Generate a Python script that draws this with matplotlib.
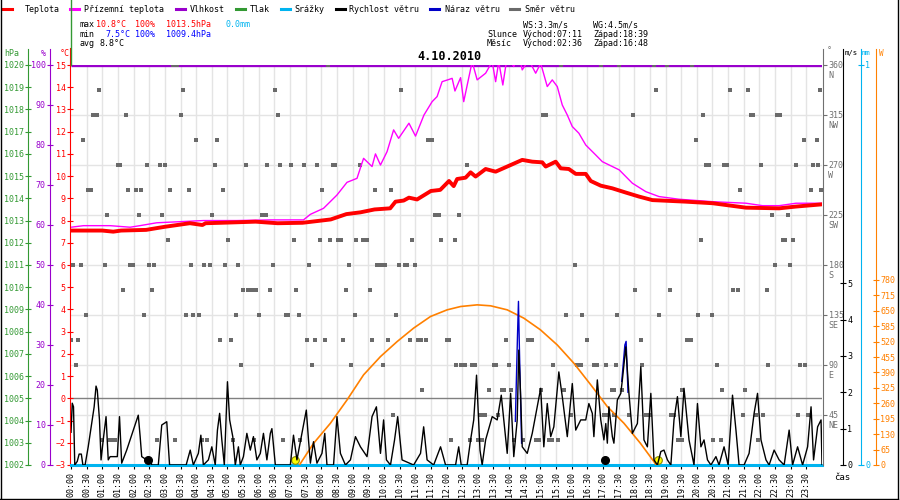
import matplotlib
matplotlib.use('Agg')
import matplotlib.pyplot as plt
from matplotlib.lines import Line2D

plt.rcParams['font.family'] = ['DejaVu Sans Mono']
plt.rcParams['font.size'] = 6

# ---- values ----
temp_hour = [0, 0.5, 1.0, 1.35, 1.6, 2.4, 3.0, 3.8, 4.2, 4.3, 4.8, 5.9, 6.6, 7.4, 8.3, 8.8,
             9.25, 9.7, 10.2, 10.37, 10.63, 10.8, 11.06, 11.5, 11.8, 12.08, 12.23, 12.34,
             12.61, 12.77, 12.93, 13.25, 13.57, 14.1, 14.42, 14.74, 15.06, 15.17, 15.49,
             15.65, 15.91, 16.13, 16.45, 16.61, 16.93, 17.3, 17.73, 18.15, 18.58, 18.9,
             19.65, 20.5, 20.93, 21.57, 22.63, 23.17, 24.0]
temp_c = [7.55, 7.55, 7.55, 7.5, 7.55, 7.58, 7.72, 7.88, 7.8, 7.88, 7.9, 7.95, 7.88, 7.9,
          8.05, 8.29, 8.37, 8.5, 8.55, 8.85, 8.9, 9.03, 8.95, 9.33, 9.38, 9.78, 9.55, 9.87,
          9.93, 10.17, 9.98, 10.32, 10.2, 10.53, 10.73, 10.65, 10.62, 10.43, 10.65, 10.35,
          10.32, 10.1, 10.1, 9.78, 9.57, 9.45, 9.26, 9.08, 8.92, 8.9, 8.85, 8.78, 8.7, 8.58,
          8.55, 8.63, 8.73]

ground_hour = [0, 0.4, 1.25, 1.89, 2.2, 2.74, 3.49, 4.23, 5.3, 6.37, 7.43, 7.65, 8.07, 8.5,
               8.82, 9.14, 9.35, 9.62, 9.73, 9.89, 10.1, 10.31, 10.47, 10.8, 11.01, 11.28,
               11.54, 11.7, 11.86, 12.08, 12.18, 12.27, 12.45, 12.55, 12.82, 12.98, 13.25,
               13.46, 13.57, 13.67, 13.8, 13.94, 14.15, 14.31, 14.42, 14.63, 14.85, 15.01,
               15.22, 15.38, 15.54, 15.7, 15.86, 16.02, 16.23, 16.45, 16.77, 16.98, 17.52,
               17.94, 18.37, 18.79, 19.43, 20.5, 21.57, 22.1, 22.63, 23.17, 24.0]
ground_c = [7.7, 7.77, 7.77, 7.7, 7.77, 7.9, 7.95, 8.0, 8.0, 8.03, 8.03, 8.28, 8.55, 9.15,
            9.72, 9.9, 10.8, 10.43, 11.0, 10.5, 11.1, 12.08, 11.7, 12.38, 11.8, 12.75, 13.35,
            13.58, 14.25, 14.35, 14.4, 13.83, 14.43, 13.35, 15.15, 14.33, 14.63, 15.15, 14.25,
            15.15, 14.1, 15.38, 14.93, 15.5, 14.78, 15.23, 14.63, 15.08, 14.03, 14.33, 14.03,
            13.2, 12.75, 12.23, 11.93, 11.4, 10.95, 10.65, 10.28, 9.68, 9.3, 9.08, 8.96,
            8.85, 8.78, 8.67, 8.67, 8.78, 8.78]

humid_hour = [0, 24]
humid_pct = [100, 100]

rain_hour = [0, 24]
rain_mm = [0.0, 0.0]

wind_hour = [0.0, 0.04, 0.08, 0.12, 0.2, 0.26, 0.33, 0.38, 0.45, 0.55, 0.66, 0.74, 0.8, 0.84,
             0.91, 0.96, 1.03, 1.12, 1.19, 1.25, 1.48, 1.55, 1.62, 1.78, 1.99, 2.15, 2.21,
             2.26, 2.42, 2.53, 2.58, 2.79, 2.9, 3.06, 3.15, 3.68, 3.81, 3.91, 4.07, 4.15,
             4.23, 4.39, 4.5, 4.61, 4.68, 4.75, 4.82, 4.9, 4.96, 5.0, 5.07, 5.17, 5.25, 5.35,
             5.41, 5.51, 5.62, 5.73, 5.83, 5.94, 6.05, 6.15, 6.26, 6.37, 6.42, 6.53, 7.01,
             7.11, 7.22, 7.38, 7.52, 7.59, 7.65, 7.75, 7.86, 8.02, 8.11, 8.18, 8.39, 8.5,
             8.61, 8.77, 8.93, 9.09, 9.25, 9.46, 9.62, 9.76, 9.89, 9.99, 10.08, 10.21, 10.34,
             10.44, 10.58, 10.95, 11.17, 11.27, 11.38, 11.59, 11.81, 11.97, 12.29, 12.39,
             12.47, 12.66, 12.77, 12.87, 12.96, 13.07, 13.14, 13.25, 13.46, 13.62, 13.75,
             13.83, 13.94, 14.05, 14.15, 14.26, 14.31, 14.37, 14.42, 14.58, 14.74, 14.9,
             15.01, 15.11, 15.22, 15.33, 15.43, 15.59, 15.7, 15.86, 16.02, 16.13, 16.29,
             16.45, 16.55, 16.66, 16.71, 16.82, 16.93, 17.03, 17.09, 17.14, 17.19, 17.3,
             17.35, 17.46, 17.57, 17.62, 17.73, 17.83, 17.94, 18.1, 18.21, 18.31, 18.42,
             18.53, 18.63, 18.74, 18.85, 18.95, 19.06, 19.17, 19.27, 19.38, 19.49, 19.59,
             19.75, 19.91, 20.02, 20.13, 20.23, 20.34, 20.45, 20.61, 20.71, 20.87, 21.0,
             21.14, 21.25, 21.35, 21.51, 21.67, 21.83, 21.94, 22.05, 22.21, 22.31, 22.47,
             22.63, 22.79, 22.95, 23.06, 23.22, 23.38, 23.54, 23.65, 23.73, 23.86, 23.97, 24.0]
wind_ms = [0.9, 1.7, 1.6, 0.0, 0.1, 0.3, 0.3, 0.0, 0.0, 0.5, 1.14, 1.6, 2.17, 2.06,
           1.24, 0.14, 0.69, 1.33, 0.14, 0.23, 0.23, 1.33, 0.05, 0.41, 0.96, 1.37, 0.78,
           0.23, 0.14, 0.18, 0.0, 0.0, 1.1, 1.19, 0.0, 0.0, 0.41, 0.0, 0.32, 0.82,
           0.0, 0.14, 0.5, 0.0, 0.96, 1.42, 0.69, 0.0, 1.42, 2.29, 1.24, 0.78, 0.0, 0.5,
           0.0, 0.23, 0.87, 0.41, 0.78, 0.14, 0.32, 0.87, 0.14, 0.87, 1.0, 0.0, 0.0,
           0.82, 0.14, 0.87, 1.51, 0.69, 0.05, 0.64, 0.05, 0.32, 0.87, 0.0, 0.0, 1.33,
           0.32, 0.0, 0.14, 0.78, 0.5, 0.23, 1.33, 1.6, 0.32, 1.24, 0.14, 0.0, 0.69,
           1.33, 0.14, 0.0, 0.32, 1.05, 0.14, 0.0, 0.5, 0.0, 0.0, 0.5,
           0.0, 0.0, 0.69, 1.24, 2.47, 0.41, 0.0, 0.69, 1.33, 1.24, 1.92,
           1.24, 0.32, 1.97, 0.23, 1.24, 3.16, 1.88, 0.5, 0.32, 0.87, 1.6,
           2.11, 0.5, 1.69, 0.78, 1.05, 2.56, 1.88, 0.78, 2.24, 0.96, 1.24,
           1.24, 1.69, 1.42, 0.78, 2.34, 1.24, 0.69, 1.14, 0.6, 1.6, 0.78,
           0.6, 1.79, 1.97, 2.34, 3.25, 1.97, 0.87, 1.14, 2.7, 0.69, 0.5,
           1.97, 0.14, 0.0, 0.37, 0.41, 0.14, 0.0, 1.24, 1.88, 0.78, 2.11,
           0.69, 0.0, 1.69, 0.5, 0.69, 0.14, 0.0, 0.23, 0.0, 0.5, 0.0,
           1.92, 0.96, 0.0, 0.0, 0.32, 1.42, 1.97, 0.69, 0.14, 0.0, 0.41,
           0.14, 0.0, 0.96, 0.0, 0.5, 0.0, 0.5, 1.6, 0.14, 1.05, 1.24, 0.0]

gust_hour = [14.2, 14.27, 14.3, 14.33, 14.4, float('nan'), 17.6, 17.7, 17.74, 17.8]
gust_ms = [1.2, 3.6, 4.5, 3.2, 0.6, float('nan'), 2.3, 3.3, 3.4, 2.0]

sun_hour = [7.3, 7.75, 8.29, 8.82, 9.35, 9.89, 10.42, 10.95, 11.49, 12.02, 12.45, 12.98,
            13.41, 13.94, 14.47, 15.0, 15.54, 16.07, 16.61, 17.14, 17.67, 18.2, 18.63, 18.7]
sun_w = [0, 91, 176, 274, 380, 457, 520, 577, 626, 654, 668, 675,
         671, 654, 619, 570, 506, 429, 338, 246, 176, 91, 14, 0]

sun_events = [7.15, 18.75]
moon_events = [2.45, 17.08]

# wind direction samples: degree -> hours
wind_dir = {
    360.0: [3.27, 3.40, 8.21, 15.67, 16.93, 17.51, 18.63, 19.04, 19.86],
    337.5: [0.9, 3.57, 6.53, 10.56, 18.71, 21.06, 21.63, 23.95],
    315.0: [0.71, 0.82, 1.76, 3.52, 6.61, 15.09, 15.19, 17.95, 20.21, 21.73, 21.81, 22.56, 22.67],
    292.5: [0.39, 4.0, 4.66, 11.40, 11.54, 19.97, 23.41, 23.83],
    270.0: [1.49, 1.57, 2.42, 2.83, 3.01, 4.61, 5.59, 6.26, 6.69, 7.03, 7.46, 7.86, 8.36, 8.45,
            9.22, 12.67, 20.29, 20.4, 20.87, 20.98, 22.06, 23.16, 23.72, 23.88],
    247.5: [0.55, 0.64, 1.81, 2.08, 2.23, 3.17, 3.78, 4.85, 8.03, 9.73, 10.24, 21.39, 23.65, 23.98],
    225.0: [1.14, 2.18, 2.9, 4.5, 6.10, 6.23, 11.63, 11.75, 12.41, 22.4, 22.91],
    202.5: [3.09, 5.01, 7.14, 7.95, 8.29, 8.53, 8.64, 9.12, 9.32, 9.46, 10.9, 11.81, 12.26,
            20.13, 22.74, 22.83, 23.07],
    180.0: [0.05, 0.32, 1.09, 1.89, 1.97, 2.5, 2.66, 3.84, 4.26, 4.43, 4.93, 5.33, 6.44, 7.6,
            8.9, 9.78, 9.91, 10.05, 10.48, 10.67, 10.74, 10.98, 16.1, 22.5, 22.98],
    157.5: [1.65, 2.58, 5.51, 5.67, 5.78, 5.92, 6.37, 7.2, 8.79, 9.57, 18.03, 19.14, 21.16,
            21.3, 22.24],
    135.0: [0.47, 2.34, 3.68, 3.91, 4.09, 5.27, 6.02, 6.87, 6.95, 7.3, 9.06, 10.4, 15.83,
            16.34, 17.44, 18.79, 20.05, 20.48],
    112.5: [0.0, 0.21, 4.77, 5.12, 7.54, 7.81, 8.13, 8.7, 9.63, 10.14, 10.82, 11.09, 11.17,
            11.33, 12.0, 12.08, 13.91, 14.6, 14.74, 16.5, 18.21, 19.7, 19.81],
    90.0: [0.16, 5.44, 7.71, 8.96, 9.96, 12.31, 12.47, 12.58, 12.82, 12.91, 13.51, 13.59,
           13.99, 15.41, 16.18, 16.29, 16.71, 16.82, 17.11, 17.43, 18.26, 20.63, 22.29,
           23.31, 23.47],
    67.5: [11.22, 13.35, 13.78, 13.83, 14.07, 15.01, 15.75, 17.28, 17.35, 17.62, 19.54,
           20.8, 21.55],
    45.0: [10.29, 13.09, 13.23, 13.65, 15.97, 17.03, 17.14, 17.35, 17.83, 18.37, 18.51,
           19.19, 19.27, 21.46, 21.89, 22.13, 23.22, 23.56],
    22.5: [0.98, 1.25, 1.32, 1.41, 2.76, 3.33, 4.2, 4.34, 5.17, 5.86, 6.78, 7.33, 12.15,
           12.74, 13.01, 13.14, 14.15, 14.45, 14.85, 14.95, 15.27, 15.38, 15.56, 19.41,
           19.51, 20.53, 20.77, 21.97],
}

hour_ticks = [i * 0.5 for i in range(48)]
hour_labels = ['%02d:%02d' % (int(h), 30 if h % 1 else 0) for h in hour_ticks]
dir_ticks = [45, 90, 135, 180, 225, 270, 315, 360]
dir_names = ['NE', 'E', 'SE', 'S', 'SW', 'W', 'NW', 'N']

RED = '#ff0000'
MAGENTA = '#ff00ff'
PURPLE = '#9900cc'
GREEN = '#339933'
CYAN = '#00b4f0'
NAVY = '#0000c8'
GRAY = '#6a6a6a'
ORANGE = '#ff8000'

W, H = 900, 500
def fx(px):
    return px / W
def fy(py):
    return 1 - py / H

fig = plt.figure(figsize=(9, 5), dpi=100)
fig.patch.set_facecolor('white')

L, R, T, B = 71, 822, 65, 465
ax = fig.add_axes([fx(L), fy(B), (R - L) / W, (B - T) / H])
ax.set_xlim(0, 24)
ax.set_ylim(-3, 15)
ax.patch.set_visible(False)

# grid
for h in hour_ticks[1:]:
    ax.axvline(h, color='#e4e4e4', lw=1, zorder=0)
for d in dir_ticks[:-1]:
    ax.axhline(-3 + d / 20, color='#e4e4e4', lw=1, zorder=0)
ax.axhline(0, color='#808080', lw=1, zorder=1)

for s in ['top', 'right', 'bottom']:
    ax.spines[s].set_visible(False)
ax.spines['left'].set_color(RED)
ax.spines['left'].set_position(('outward', 0.7))
ax.spines['left'].set_bounds(-3, 15.75)
ax.set_yticks(range(-3, 16))
ax.tick_params(axis='y', colors=RED, direction='inout', length=4, pad=1, labelsize=6)
ax.set_xticks(hour_ticks)
ax.set_xticklabels(hour_labels, rotation=90)
ax.tick_params(axis='x', direction='out', length=3, pad=2, labelsize=6, colors='black')


def side_axis(lo, hi, side, offset_px, color, ticks, direction='inout'):
    a = ax.twinx()
    a.set_ylim(lo, hi)
    for s in a.spines.values():
        s.set_visible(False)
    sp = a.spines[side]
    sp.set_visible(True)
    sp.set_position(('outward', offset_px * 0.72))
    sp.set_color(color)
    sp.set_bounds(lo, lo + (hi - lo) * 1.04)
    if side == 'left':
        a.yaxis.tick_left()
    else:
        a.yaxis.tick_right()
    a.set_yticks(ticks)
    a.tick_params(axis='y', colors=color, direction=direction, length=4, pad=1, labelsize=6)
    return a


axp = side_axis(1002, 1020, 'left', 43, GREEN, range(1002, 1021))
axh = side_axis(0, 100, 'left', 21, PURPLE, range(0, 101, 10))
axh.plot(humid_hour, humid_pct, color=PURPLE, lw=2.4, solid_capstyle='butt')

axr = side_axis(0, 1, 'right', 39, CYAN, [0, 1])
axr.plot(rain_hour, rain_mm, color=CYAN, lw=2.2, clip_on=False)

axd = side_axis(0, 360, 'right', 1, '#707070', dir_ticks, direction='out')
axd.tick_params(axis='y', length=3)
dir_x, dir_y = [], []
for deg, hours in wind_dir.items():
    dir_x += hours
    dir_y += [deg] * len(hours)
axd.plot(dir_x, dir_y, 's', ms=3.4, color=GRAY, mew=0, zorder=3)
for d, n in zip(dir_ticks, dir_names):
    axd.annotate(n, xy=(1, d), xycoords=axd.get_yaxis_transform(), xytext=(4.5, -7.5),
                 textcoords='offset points', va='center', ha='left', color='#707070', fontsize=6,
                 annotation_clip=False)

axs = side_axis(0, 1686, 'right', 54, ORANGE, range(0, 781, 65))
axs.plot(sun_hour, sun_w, color=ORANGE, lw=1.2)
axs.plot(sun_events, [0.012, 0.012], 'o', ms=5.5, mfc='#ffff00', mec='#8a8a00', mew=0.8,
         transform=ax.get_xaxis_transform(), zorder=5)

axw = side_axis(0, 11, 'right', 21, 'black', range(0, 6))
axw.plot(gust_hour, gust_ms, color=NAVY, lw=1)
axw.plot(wind_hour, wind_ms, color='black', lw=1)
axw.plot(moon_events, [0.012, 0.012], 'o', ms=5.5, color='black',
         transform=ax.get_xaxis_transform(), zorder=5)

axt = ax.twinx()
axt.set_ylim(-3, 15)
axt.axis('off')
axt.plot(ground_hour, ground_c, color=MAGENTA, lw=1)
axt.plot(temp_hour, temp_c, color=RED, lw=2.8)

# axis titles
fig.text(fx(4), fy(53), 'hPa', color=GREEN, va='center', fontsize=6)
fig.text(fx(41), fy(53), '%', color=PURPLE, va='center', fontsize=6)
fig.text(fx(60), fy(53), '°C', color=RED, va='center', fontsize=6)
fig.text(fx(827), fy(51), '°', color='#707070', va='center', fontsize=6)
fig.text(fx(845), fy(53), 'm/s', color='black', va='center', fontsize=5.2)
fig.text(fx(862), fy(53), 'mm', color=CYAN, va='center', fontsize=5.2)
fig.text(fx(879), fy(53), 'W', color=ORANGE, va='center', fontsize=5.5)
fig.text(fx(834), fy(478), 'čas', color='black', va='center', fontsize=6.5)

fig.text(fx(449), fy(57), '4.10.2010', ha='center', va='center', fontsize=8.5, fontweight='bold')

# legend row
legend = [('Teplota', RED, 3, 25), ('Přízemní teplota', MAGENTA, 70, 84),
          ('Vlhkost', PURPLE, 176, 190), ('Tlak', GREEN, 236, 250),
          ('Srážky', CYAN, 281, 294), ('Rychlost větru', 'black', 336, 349),
          ('Náraz větru', NAVY, 430, 445), ('Směr větru', GRAY, 510, 525)]
for name, col, x0, xt in legend:
    fig.add_artist(Line2D([fx(x0), fx(x0 + 9)], [fy(9), fy(9)], color=col, lw=2.2))
    fig.text(fx(xt), fy(9), name, va='center', fontsize=6)

# stats block
stats = [(80, 24.5, 'max', 'black'), (96, 24.5, '10.8°C', RED), (135, 24.5, '100%', RED),
         (166, 24.5, '1013.5hPa', RED), (226, 24.5, '0.0mm', CYAN),
         (80, 34.5, 'min', 'black'), (105, 34.5, '7.5°C', '#0000ff'),
         (135, 34.5, '100%', '#0000ff'), (166, 34.5, '1009.4hPa', '#0000ff'),
         (80, 44, 'avg', 'black'), (100, 44, '8.8°C', 'black'),
         (523, 24.5, 'WS:3.3m/s', 'black'), (593, 24.5, 'WG:4.5m/s', 'black'),
         (487, 34.5, 'Slunce', 'black'), (523, 34.5, 'Východ:07:11', 'black'),
         (593, 34.5, 'Západ:18:39', 'black'),
         (487, 44, 'Měsíc', 'black'), (523, 44, 'Východ:02:36', 'black'),
         (593, 44, 'Západ:16:48', 'black')]
for x, y, txt, col in stats:
    fig.text(fx(x), fy(y), txt, color=col, va='center', fontsize=6)

# frame lines
fig.add_artist(Line2D([fx(71), fx(71)], [fy(0), fy(65)], color=GREEN, lw=1))
fig.add_artist(Line2D([fx(0.5), fx(0.5)], [fy(0), fy(499)], color='black', lw=1))
fig.add_artist(Line2D([fx(897.5), fx(897.5)], [fy(0), fy(499)], color='black', lw=1))
fig.add_artist(Line2D([fx(0), fx(898)], [fy(498.5), fy(498.5)], color='black', lw=1))

fig.savefig('out.png', dpi=100, facecolor='white')
